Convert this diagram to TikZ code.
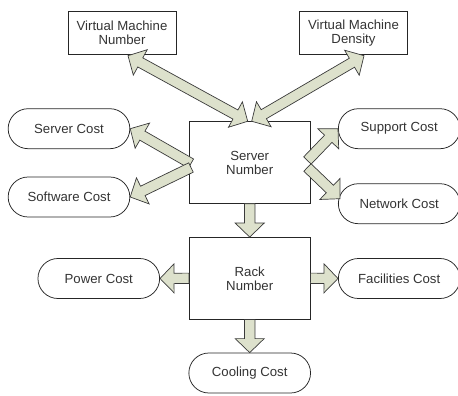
\documentclass[tikz,border=0pt]{standalone}
\usepackage{fontspec}
\setmainfont{Liberation Sans}
\usetikzlibrary{calc}

\definecolor{arrowfill}{HTML}{DDE1CC}
\definecolor{edgegray}{HTML}{3A3A3A}

\newcommand{\arrowheadlen}{14pt}
\newcommand{\arrowheadhalf}{14.5pt}
\newcommand{\arrowshafthalf}{5.2pt}

% single block arrow from #1 to #2
\newcommand{\blockarrow}[2]{%
  \coordinate (ba) at (#1);
  \coordinate (bb) at (#2);
  \coordinate (hb) at ($(bb)!\arrowheadlen!(ba)$);
  \draw[blockfill] ($(ba)!\arrowshafthalf!90:(bb)$) -- ($(hb)!\arrowshafthalf!90:(bb)$)
    -- ($(hb)!\arrowheadhalf!90:(bb)$) -- (bb) -- ($(hb)!\arrowheadhalf!-90:(bb)$)
    -- ($(hb)!\arrowshafthalf!-90:(bb)$) -- ($(ba)!\arrowshafthalf!-90:(bb)$) -- cycle;}

% block arrow with a head at both ends
\newcommand{\dblarrow}[2]{%
  \coordinate (ba) at (#1);
  \coordinate (bb) at (#2);
  \coordinate (ha) at ($(ba)!\arrowheadlen!(bb)$);
  \coordinate (hb) at ($(bb)!\arrowheadlen!(ba)$);
  \draw[blockfill] (ba) -- ($(ha)!\arrowheadhalf!90:(bb)$) -- ($(ha)!\arrowshafthalf!90:(bb)$)
    -- ($(hb)!\arrowshafthalf!90:(bb)$) -- ($(hb)!\arrowheadhalf!90:(bb)$) -- (bb)
    -- ($(hb)!\arrowheadhalf!-90:(bb)$) -- ($(hb)!\arrowshafthalf!-90:(bb)$)
    -- ($(ha)!\arrowshafthalf!-90:(bb)$) -- ($(ha)!\arrowheadhalf!-90:(bb)$) -- cycle;}

\tikzset{
  blockfill/.style={draw=edgegray, fill=arrowfill, line width=0.7pt, line join=miter},
  textnode/.style={draw=black!85, line width=0.75pt, text=black!80, align=center,
    font=\fontsize{13.2}{14}\selectfont, inner sep=0pt},
  topbox/.style={textnode, rectangle, minimum width=108pt, minimum height=42.6pt},
  mainbox/.style={textnode, rectangle, minimum width=120.7pt, minimum height=81.7pt},
  costpill/.style={textnode, rectangle, rounded corners=20pt, minimum width=121.7pt, minimum height=40pt}
}

\begin{document}
\begin{tikzpicture}[x=1pt,y=-1pt]
    \useasboundingbox (0,0) rectangle (458,396);

    \node[topbox]   (vmn)        at (122,33)      {Virtual Machine\\Number};
    \node[topbox]   (vmd)        at (353.5,33)    {Virtual Machine\\Density};
    \node[mainbox]  (srv)        at (249.7,162.5) {Server\\Number};
    \node[mainbox]  (rack)       at (249.7,278.3) {Rack\\Number};
    \node[costpill] (server)     at (69,128.7)    {Server Cost};
    \node[costpill] (software)   at (69,197)      {Software Cost};
    \node[costpill] (support)    at (399.2,128.7) {Support Cost};
    \node[costpill] (network)    at (399.2,203.7) {Network Cost};
    \node[costpill] (power)      at (98.8,278.5)  {Power Cost};
    \node[costpill] (facilities) at (399.2,278.5) {Facilities Cost};
    \node[costpill] (cooling)    at (249.7,373)   {Cooling Cost};

    \dblarrow{$(vmn.south)+(6,1)$}{$(srv.north)+(-2,0)$}
    \dblarrow{$(vmd.south)+(10.5,1)$}{$(srv.north)+(2,0)$}

    \blockarrow{$(srv.west)+(2,1)$}{server.east}
    \blockarrow{$(srv.west)+(2,5)$}{software.east}
    \blockarrow{$(srv.east)+(-3,-2)$}{support.west}
    \blockarrow{$(srv.east)+(-3,5)$}{$(network.west)+(2,-5)$}

    \blockarrow{srv.south}{rack.north}
    \blockarrow{rack.west}{power.east}
    \blockarrow{rack.east}{facilities.west}
    \blockarrow{rack.south}{cooling.north}
\end{tikzpicture}
\end{document}
